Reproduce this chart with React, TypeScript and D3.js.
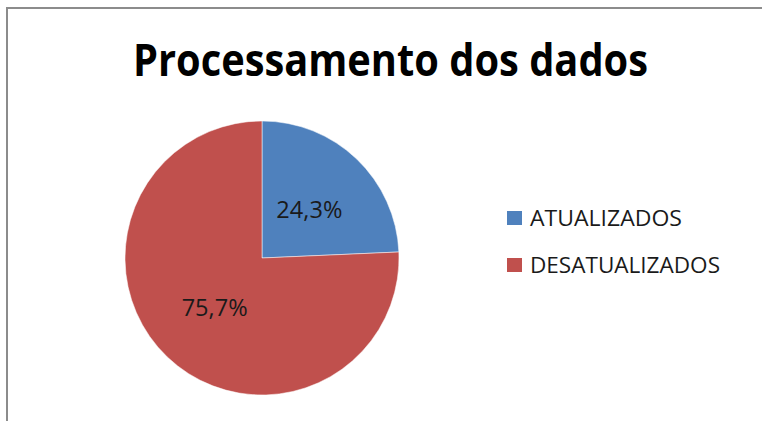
import React, { useEffect, useRef } from "react";
import * as d3 from "d3";

const title = "Processamento dos dados";
const categories = ["ATUALIZADOS", "DESATUALIZADOS"];
const values = [24.3, 75.7];
const labels = ["24,3%", "75,7%"];
const colors = ["#4F81BD", "#C0504D"];

const App = () => {
  const ref = useRef<SVGSVGElement>(null);

  useEffect(() => {
    const svg = d3.select(ref.current);
    svg.selectAll("*").remove();

    // frame (cut off at right/bottom like the screenshot)
    svg
      .append("rect")
      .attr("x", 7)
      .attr("y", 8)
      .attr("width", 800)
      .attr("height", 500)
      .attr("fill", "#fff")
      .attr("stroke", "#8c8c8c")
      .attr("stroke-width", 2);

    svg
      .append("text")
      .attr("x", 390.5)
      .attr("y", 76)
      .attr("text-anchor", "middle")
      .attr("font-family", "Open Sans")
      .attr("font-weight", "bold")
      .attr("font-size", 44)
      .attr("textLength", 515)
      .attr("lengthAdjust", "spacingAndGlyphs")
      .attr("fill", "#000")
      .text(title);

    var cx = 262,
      cy = 258,
      r = 137;

    var pie = d3
      .pie<number>()
      .sort(null)
      .value(function (d) {
        return d;
      });
    var arc = d3.arc<d3.PieArcDatum<number>>().innerRadius(0).outerRadius(r);
    var labelArc = d3
      .arc<d3.PieArcDatum<number>>()
      .innerRadius(r * 0.5)
      .outerRadius(r * 0.5);

    var g = svg.append("g").attr("transform", "translate(" + cx + "," + cy + ")");
    var arcs = pie(values);

    g.selectAll("path")
      .data(arcs)
      .enter()
      .append("path")
      .attr("d", arc)
      .attr("fill", function (d, i) {
        return colors[i];
      })
      .attr("stroke", "#fff")
      .attr("stroke-opacity", 0.5)
      .attr("stroke-width", 1);

    g.selectAll("text")
      .data(arcs)
      .enter()
      .append("text")
      .attr("transform", function (d) {
        var c = labelArc.centroid(d);
        return "translate(" + c[0] + "," + (c[1] + 9) + ")";
      })
      .attr("text-anchor", "middle")
      .attr("font-family", "Open Sans")
      .attr("font-size", 24)
      .attr("textLength", 66)
      .attr("lengthAdjust", "spacingAndGlyphs")
      .attr("fill", "#1a1a1a")
      .text(function (d, i) {
        return labels[i];
      });

    var legend = svg
      .selectAll(".legend")
      .data(categories)
      .enter()
      .append("g")
      .attr("class", "legend")
      .attr("transform", function (d, i) {
        return "translate(507," + (211 + i * 47) + ")";
      });

    legend
      .append("rect")
      .attr("width", 15)
      .attr("height", 14)
      .attr("fill", function (d, i) {
        return colors[i];
      });

    legend
      .append("text")
      .attr("x", 23)
      .attr("y", 14.5)
      .attr("font-family", "Open Sans")
      .attr("font-size", 22)
      .attr("textLength", function (d, i) {
        return i === 0 ? 152 : 190;
      })
      .attr("lengthAdjust", "spacingAndGlyphs")
      .attr("fill", "#1a1a1a")
      .text(function (d) {
        return d;
      });
  }, []);

  return (
    <svg
      ref={ref}
      width={762}
      height={421}
      style={{ position: "absolute", left: 0, top: 0 }}
    />
  );
};

export default App;
